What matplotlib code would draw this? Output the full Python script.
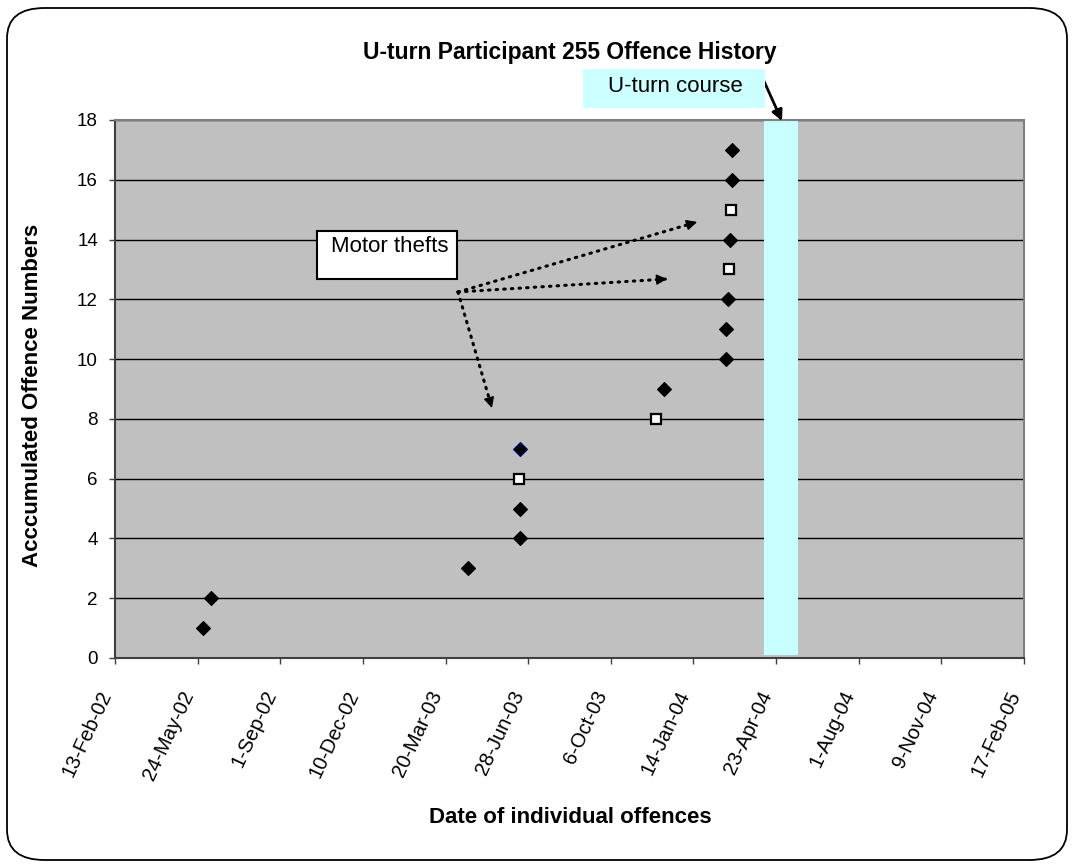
import matplotlib
matplotlib.use("Agg")
import matplotlib.pyplot as plt
from matplotlib.patches import FancyBboxPatch, Rectangle
import datetime as dt

plt.rcParams['font.family'] = ['Liberation Sans', 'DejaVu Sans']

# ---- data ----
offence_dates = ['2002-05-30', '2002-06-09', '2003-04-16', '2003-06-18', '2003-06-18',
                 '2003-06-17', '2003-06-18', '2003-11-30', '2003-12-09', '2004-02-22',
                 '2004-02-22', '2004-02-25', '2004-02-26', '2004-02-27', '2004-02-28',
                 '2004-03-01', '2004-03-01']
offence_counts = list(range(1, 18))
motor_theft = [False, False, False, False, False, True, False, True, False, False,
               False, False, True, False, True, False, False]
course_start = '2004-04-08'
course_end = '2004-05-20'
x_start = '2002-02-13'
x_end = '2005-02-17'
tick_step_days = 100
y_ticks = list(range(0, 19, 2))

title = 'U-turn Participant 255 Offence History'
y_label = 'Acccumulated Offence Numbers'
x_label = 'Date of individual offences'

# ---- figure ----
W, H = 1073, 867
fig = plt.figure(figsize=(W / 100, H / 100), dpi=100)

border = FancyBboxPatch((7 / W, 7 / H), 1060 / W, 852 / H,
                        boxstyle="round,pad=0,rounding_size=0.035",
                        transform=fig.transFigure, fill=False, ec='black', lw=1.3)
fig.patches.append(border)

ax = fig.add_axes([115 / W, 1 - 658 / H, 909 / W, 538 / H])
ax.set_facecolor('#C0C0C0')

d = [dt.datetime.strptime(s, '%Y-%m-%d') for s in offence_dates]
xs = dt.datetime.strptime(x_start, '%Y-%m-%d')
xe = dt.datetime.strptime(x_end, '%Y-%m-%d')
cs = dt.datetime.strptime(course_start, '%Y-%m-%d')
ce = dt.datetime.strptime(course_end, '%Y-%m-%d')

ax.set_xlim(xs, xe)
ax.set_ylim(0, 18)

ax.axvspan(cs, ce, ymin=0.006, ymax=1, color='#C8FFFF', zorder=1, lw=0)

for di, c, m in zip(d, offence_counts, motor_theft):
    if m:
        ax.plot(di, c, marker='s', ms=7, mfc='white', mec='black', mew=1.6,
                ls='none', zorder=3)
    else:
        ec = '#000080' if c == 7 else 'black'
        ax.plot(di, c, marker='D', ms=7.2, mfc='black', mec=ec, mew=0.8,
                ls='none', zorder=3)

ticks = []
t = xs
while t <= xe:
    ticks.append(t)
    t = t + dt.timedelta(days=tick_step_days)
ax.set_xticks(ticks)
ax.set_xticklabels([f"{tk.day}-{tk.strftime('%b-%y')}" for tk in ticks],
                   rotation=65, ha='right', va='top', fontsize=14.5)
ax.set_yticks(y_ticks)
ax.set_yticklabels([str(v) for v in y_ticks], fontsize=13.5)
ax.tick_params(direction='out', length=4.3, width=1, color='#404040')
ax.tick_params(axis='y', pad=8)
ax.tick_params(axis='x', pad=17)

ax.yaxis.grid(True, color='black', lw=1)
ax.set_axisbelow(True)
for gl in ax.get_ygridlines():
    gl.set_zorder(0.5)

for s in ['left', 'bottom']:
    ax.spines[s].set_color('#404040')
    ax.spines[s].set_linewidth(1.5)
for s in ['top', 'right']:
    ax.spines[s].set_color('#808080')
    ax.spines[s].set_linewidth(1.5)

fig.text(570 / W, 1 - 59 / H, title, ha='center', va='baseline',
         fontsize=16.5, fontweight='bold')
fig.text(33 / W, 1 - 395 / H, y_label, ha='center', va='center',
         rotation=90, fontsize=16, fontweight='bold')
fig.text(570 / W, 1 - 823 / H, x_label, ha='center', va='baseline',
         fontsize=16, fontweight='bold')

# Motor thefts annotation
ax.add_patch(Rectangle((0.2222, 0.7045), 0.154, 0.0892, transform=ax.transAxes,
                       fc='white', ec='black', lw=1.5, zorder=4))
ax.text(0.2376, 0.764, 'Motor thefts', transform=ax.transAxes, ha='left',
        va='center', fontsize=16, zorder=5)
start = (0.3773, 0.6803)
for end in [(0.6403, 0.8104), (0.6073, 0.7045), (0.4147, 0.4647)]:
    ax.plot([start[0], end[0]], [start[1], end[1]], transform=ax.transAxes,
            color='black', lw=2.2, ls=(0, (0.5, 2.0)), dash_capstyle='round',
            zorder=5)
    pre = (end[0] - 0.02 * (end[0] - start[0]), end[1] - 0.02 * (end[1] - start[1]))
    ax.annotate('', xy=end, xytext=pre, xycoords='axes fraction',
                textcoords='axes fraction',
                arrowprops=dict(arrowstyle='-|>', lw=1, color='black',
                                mutation_scale=16, shrinkA=0, shrinkB=0),
                zorder=5)

# U-turn course annotation
fig.patches.append(Rectangle((583 / W, 1 - 108 / H), 182 / W, 39 / H,
                             transform=fig.transFigure, fc='#CCFFFF', ec='none'))
fig.text(675 / W, 1 - 87 / H, 'U-turn course', ha='center', va='center', fontsize=16)
ax.annotate('', xy=(782 / W, 1 - 121 / H), xytext=(763 / W, 1 - 79 / H),
            xycoords='figure fraction', textcoords='figure fraction',
            arrowprops=dict(arrowstyle='-|>', lw=2, color='black',
                            mutation_scale=16, shrinkA=0, shrinkB=0),
            annotation_clip=False)

fig.savefig('out.png', dpi=100)
